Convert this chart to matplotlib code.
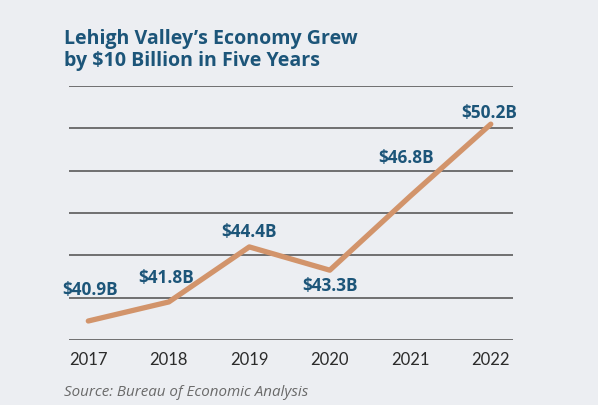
import matplotlib
matplotlib.use("Agg")
import matplotlib.pyplot as plt

years = [2017, 2018, 2019, 2020, 2021, 2022]
gdp = [40.9, 41.8, 44.4, 43.3, 46.8, 50.2]
labels = ["$40.9B", "$41.8B", "$44.4B", "$43.3B", "$46.8B", "$50.2B"]
label_offsets = [(2, 32), (-3, 25), (0, 16), (0, -15), (-4, 39), (-2, 12)]
grid_values = [40, 42, 44, 46, 48, 50, 52]

bg = "#eceef2"
blue = "#1c5579"
line_c = "#d2946b"

fig = plt.figure(figsize=(5.98, 4.06), dpi=100, facecolor=bg)
ax = fig.add_axes([0.1159, 0.160, 0.7425, 0.6256])
ax.set_facecolor(bg)

for g in grid_values:
    ax.axhline(g, color="#4d4d4d", lw=1.1, zorder=1)

ax.plot(years, gdp, color=line_c, lw=3.8, solid_capstyle="round", zorder=3)

for x, y, lab, off in zip(years, gdp, labels, label_offsets):
    ax.annotate(lab.replace("$", r"\$"), (x, y), xytext=off, textcoords="offset pixels",
                ha="center", va="center", color=blue, fontsize=12.4,
                fontweight="bold", family="Open Sans", zorder=4)

ax.set_xlim(2017 - 0.236, 2022 + 0.28)
ax.set_ylim(40, 52)
ax.set_yticks([])
ax.set_xticks(years)
ax.set_xticklabels([str(y) for y in years], family="Lato", fontsize=12, color="#2b2b2b")
ax.tick_params(axis="x", length=0, pad=8)
for s in ax.spines.values():
    s.set_visible(False)

fig.text(64 / 598, 1 - 50 / 406, "Lehigh Valley\u2019s Economy Grew\nby $10 Billion in Five Years",
         ha="left", va="center", fontsize=14.1, fontweight="bold", family="Open Sans",
         color=blue, linespacing=1.12)
fig.text(64 / 598, 1 - 393 / 406, "Source: Bureau of Economic Analysis", ha="left", va="center",
         fontsize=10.9, style="italic", family="Open Sans", color="#6a6a6a")

fig.savefig("out.png", dpi=100, facecolor=bg)
